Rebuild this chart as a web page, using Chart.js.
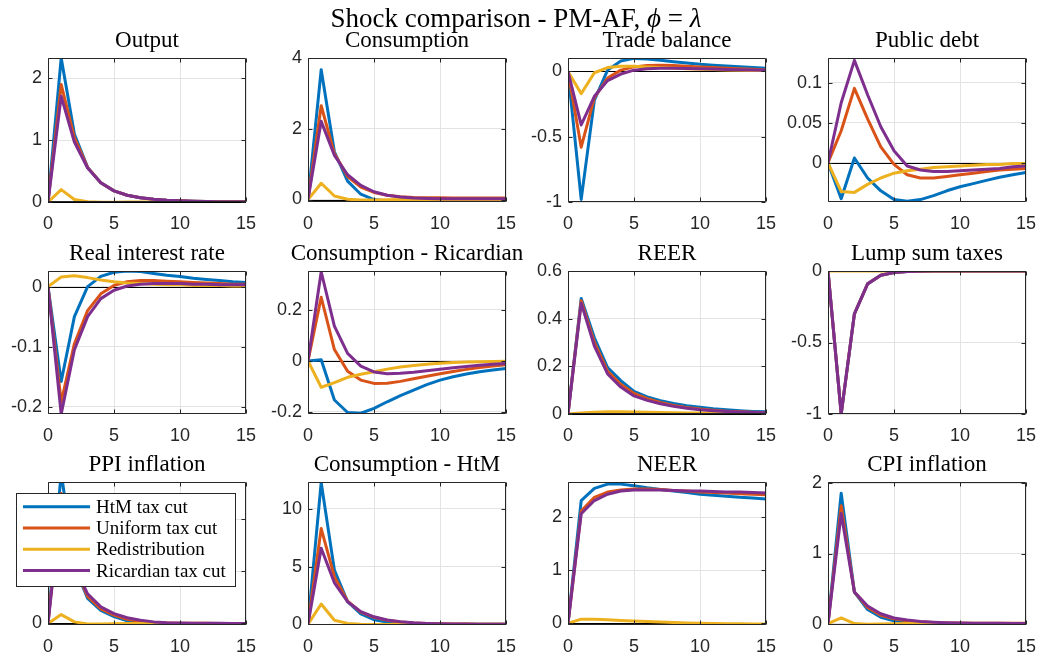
<!DOCTYPE html>
<html>
<head>
<meta charset="utf-8">
<script src="https://cdn.jsdelivr.net/npm/chart.js@4.4.0/dist/chart.umd.min.js"></script>
<style>
  html, body { margin: 0; padding: 0; background: #fff; }
  body { width: 1042px; height: 657px; position: relative; overflow: hidden; }
  canvas.panel { position: absolute; }
  #suptitle {
    position: absolute; left: 266px; width: 500px; top: 5px;
    text-align: center; font: 27px/26px "Liberation Serif", "Times New Roman", serif;
    color: #000; white-space: nowrap; z-index: 2;
  }
</style>
</head>
<body>
<div id="suptitle">Shock comparison - PM-AF, <i>ϕ</i>&nbsp;=&nbsp;<i>λ</i></div>
<script>
// horizon (quarters) and shared x ticks
const periods = [0, 1, 2, 3, 4, 5, 6, 7, 8, 9, 10, 11, 12, 13, 14, 15];
const xTicks = [0, 5, 10, 15];

const seriesNames = ['HtM tax cut', 'Uniform tax cut', 'Redistribution', 'Ricardian tax cut'];
const seriesColors = ['#0072BD', '#D95319', '#EDB120', '#7E2F8E'];

// Output
const outputHtm = [0, 2.33, 1.10, 0.56, 0.31, 0.18, 0.11, 0.07, 0.045, 0.03, 0.02, 0.013, 0.009, 0.006, 0.004, 0.003];
const outputUni = [0, 1.90, 1.04, 0.56, 0.31, 0.18, 0.11, 0.07, 0.045, 0.03, 0.02, 0.013, 0.009, 0.006, 0.004, 0.003];
const outputRed = [0, 0.20, 0.04, 0.005, -0.003, -0.003, -0.002, -0.002, -0.001, -0.001, 0, 0, 0, 0, 0, 0];
const outputRic = [0, 1.71, 0.97, 0.55, 0.31, 0.18, 0.11, 0.07, 0.045, 0.03, 0.02, 0.013, 0.009, 0.006, 0.004, 0.003];
const outputTicks = [0, 1, 2];

// Consumption
const consHtm = [0, 3.67, 1.35, 0.52, 0.15, 0.0, -0.04, -0.05, -0.05, -0.045, -0.04, -0.035, -0.03, -0.025, -0.02, -0.02];
const consUni = [0, 2.65, 1.30, 0.65, 0.35, 0.20, 0.12, 0.08, 0.06, 0.05, 0.05, 0.045, 0.045, 0.04, 0.04, 0.04];
const consRed = [0, 0.46, 0.10, 0.01, -0.01, -0.01, -0.005, 0, 0, 0, 0, 0, 0, 0, 0, 0];
const consRic = [0, 2.21, 1.25, 0.70, 0.40, 0.22, 0.12, 0.07, 0.04, 0.03, 0.02, 0.02, 0.02, 0.02, 0.02, 0.02];
const consTicks = [0, 2, 4];

// Trade balance
const tbHtm = [0, -0.98, -0.22, 0.01, 0.08, 0.10, 0.095, 0.085, 0.075, 0.065, 0.055, 0.048, 0.042, 0.036, 0.03, 0.025];
const tbUni = [0, -0.58, -0.20, -0.05, 0.01, 0.035, 0.045, 0.048, 0.045, 0.04, 0.035, 0.03, 0.025, 0.02, 0.016, 0.012];
const tbRed = [0, -0.17, -0.01, 0.03, 0.04, 0.04, 0.035, 0.03, 0.025, 0.02, 0.017, 0.014, 0.012, 0.01, 0.008, 0.007];
const tbRic = [0, -0.41, -0.19, -0.07, -0.02, 0.01, 0.02, 0.025, 0.025, 0.023, 0.02, 0.018, 0.015, 0.013, 0.011, 0.01];
const tbTicks = [-1, -0.5, 0];

// Public debt
const debtHtm = [0, -0.045, 0.006, -0.019, -0.035, -0.046, -0.048, -0.046, -0.041, -0.035, -0.030, -0.026, -0.022, -0.018, -0.015, -0.012];
const debtUni = [0, 0.040, 0.093, 0.055, 0.020, -0.002, -0.015, -0.019, -0.019, -0.017, -0.015, -0.013, -0.011, -0.009, -0.008, -0.007];
const debtRed = [0, -0.036, -0.037, -0.027, -0.019, -0.013, -0.010, -0.008, -0.006, -0.005, -0.004, -0.003, -0.002, -0.002, -0.001, -0.001];
const debtRic = [0, 0.075, 0.128, 0.085, 0.045, 0.015, -0.004, -0.009, -0.011, -0.011, -0.010, -0.009, -0.008, -0.007, -0.005, -0.004];
const debtTicks = [0, 0.05, 0.1];

// Real interest rate
const rirHtm = [0, -0.158, -0.05, 0.0, 0.017, 0.024, 0.026, 0.025, 0.022, 0.019, 0.017, 0.014, 0.012, 0.010, 0.008, 0.007];
const rirUni = [0, -0.192, -0.095, -0.040, -0.012, 0.002, 0.008, 0.010, 0.010, 0.009, 0.008, 0.007, 0.006, 0.005, 0.004, 0.004];
const rirRed = [0, 0.016, 0.018, 0.015, 0.011, 0.008, 0.006, 0.005, 0.004, 0.003, 0.003, 0.002, 0.002, 0.002, 0.001, 0.001];
const rirRic = [0, -0.212, -0.105, -0.050, -0.020, -0.006, 0.001, 0.004, 0.005, 0.005, 0.005, 0.004, 0.004, 0.003, 0.003, 0.003];
const rirTicks = [-0.2, -0.1, 0];

// Consumption - Ricardian
const cricHtm = [0, 0.005, -0.153, -0.202, -0.205, -0.186, -0.16, -0.136, -0.114, -0.093, -0.075, -0.062, -0.051, -0.042, -0.035, -0.029];
const cricUni = [0, 0.25, 0.045, -0.04, -0.075, -0.088, -0.087, -0.08, -0.07, -0.06, -0.05, -0.041, -0.033, -0.026, -0.02, -0.015];
const cricRed = [0, -0.103, -0.085, -0.064, -0.052, -0.042, -0.032, -0.024, -0.018, -0.013, -0.009, -0.006, -0.004, -0.003, -0.002, -0.001];
const cricRic = [0, 0.35, 0.137, 0.03, -0.02, -0.043, -0.05, -0.048, -0.044, -0.038, -0.032, -0.027, -0.022, -0.017, -0.013, -0.01];
const cricTicks = [-0.2, 0, 0.2];

// REER
const reerHtm = [0, 0.485, 0.32, 0.195, 0.14, 0.095, 0.072, 0.056, 0.044, 0.035, 0.028, 0.022, 0.018, 0.014, 0.011, 0.009];
const reerUni = [0, 0.475, 0.30, 0.18, 0.125, 0.086, 0.064, 0.048, 0.036, 0.027, 0.021, 0.016, 0.012, 0.009, 0.007, 0.005];
const reerRed = [0, 0.004, 0.007, 0.009, 0.009, 0.008, 0.007, 0.006, 0.005, 0.004, 0.004, 0.003, 0.003, 0.002, 0.002, 0.002];
const reerRic = [0, 0.465, 0.285, 0.168, 0.113, 0.076, 0.057, 0.043, 0.032, 0.024, 0.018, 0.014, 0.011, 0.008, 0.006, 0.005];
const reerTicks = [0, 0.2, 0.4, 0.6];

// Lump sum taxes
const taxHtm = [0, -1, -0.30, -0.09, -0.03, -0.011, -0.003, -0.001, 0, 0, 0, 0, 0, 0, 0, 0];
const taxUni = [0, -1, -0.30, -0.09, -0.03, -0.011, -0.003, -0.001, 0, 0, 0, 0, 0, 0, 0, 0];
const taxRed = [0, 0, 0, 0, 0, 0, 0, 0, 0, 0, 0, 0, 0, 0, 0, 0];
const taxRic = [0, -1, -0.30, -0.09, -0.03, -0.011, -0.003, -0.001, 0, 0, 0, 0, 0, 0, 0, 0];
const taxTicks = [-1, -0.5, 0];

// PPI inflation
const ppiHtm = [0, 2.9, 1.1, 0.48, 0.25, 0.13, 0.05, 0.02, 0.0, -0.005, -0.005, -0.004, -0.003, -0.002, -0.002, -0.001];
const ppiUni = [0, 2.5, 1.1, 0.52, 0.28, 0.16, 0.08, 0.04, 0.02, 0.01, 0.005, 0.003, 0.002, 0.001, 0.001, 0.001];
const ppiRed = [0, 0.17, 0.03, -0.01, -0.01, -0.005, -0.003, -0.002, -0.001, 0, 0, 0, 0, 0, 0, 0];
const ppiRic = [0, 2.3, 1.1, 0.57, 0.32, 0.19, 0.11, 0.06, 0.03, 0.015, 0.008, 0.005, 0.003, 0.002, 0.001, 0.001];
const ppiTicks = [0, 1, 2];

// Consumption - HtM
const chtmHtm = [0, 12.3, 4.7, 1.96, 0.9, 0.4, 0.2, 0.1, 0.05, 0.03, 0.02, 0.01, 0.01, 0, 0, 0];
const chtmUni = [0, 8.3, 4.13, 2.0, 1.05, 0.6, 0.35, 0.2, 0.12, 0.07, 0.04, 0.03, 0.02, 0.01, 0.01, 0.01];
const chtmRed = [0, 1.76, 0.35, 0.08, 0.0, -0.01, -0.01, 0, 0, 0, 0, 0, 0, 0, 0, 0];
const chtmRic = [0, 6.6, 3.6, 1.96, 1.1, 0.65, 0.38, 0.22, 0.13, 0.08, 0.05, 0.03, 0.02, 0.015, 0.01, 0.01];
const chtmTicks = [0, 5, 10];

// NEER
const neerHtm = [0, 2.32, 2.55, 2.63, 2.63, 2.60, 2.56, 2.53, 2.50, 2.47, 2.44, 2.42, 2.40, 2.38, 2.37, 2.35];
const neerUni = [0, 2.12, 2.38, 2.48, 2.52, 2.54, 2.54, 2.53, 2.51, 2.50, 2.48, 2.47, 2.46, 2.45, 2.44, 2.43];
const neerRed = [0, 0.08, 0.08, 0.07, 0.055, 0.045, 0.035, 0.025, 0.015, 0.01, 0.005, 0, -0.005, -0.008, -0.01, -0.01];
const neerRic = [0, 2.07, 2.32, 2.44, 2.50, 2.52, 2.52, 2.52, 2.51, 2.50, 2.50, 2.49, 2.48, 2.48, 2.47, 2.46];
const neerTicks = [0, 1, 2];

// CPI inflation
const cpiHtm = [0, 1.86, 0.45, 0.2, 0.09, 0.04, 0.015, 0.0, -0.005, -0.005, -0.004, -0.003, -0.002, -0.002, -0.001, -0.001];
const cpiUni = [0, 1.68, 0.45, 0.23, 0.12, 0.07, 0.04, 0.025, 0.015, 0.01, 0.008, 0.006, 0.005, 0.005, 0.005, 0.005];
const cpiRed = [0, 0.08, 0.0, -0.01, -0.005, -0.002, 0, 0, 0, 0, 0, 0, 0, 0, 0, 0];
const cpiRic = [0, 1.57, 0.45, 0.25, 0.14, 0.08, 0.05, 0.03, 0.02, 0.012, 0.008, 0.006, 0.005, 0.004, 0.003, 0.003];
const cpiTicks = [0, 1, 2];

const panels = [
  { title: 'Output', series: [outputHtm, outputUni, outputRed, outputRic], yTicks: outputTicks, yMin: 0, yMax: 2.33 },
  { title: 'Consumption', series: [consHtm, consUni, consRed, consRic], yTicks: consTicks, yMin: -0.07, yMax: 4 },
  { title: 'Trade balance', series: [tbHtm, tbUni, tbRed, tbRic], yTicks: tbTicks, yMin: -1, yMax: 0.103 },
  { title: 'Public debt', series: [debtHtm, debtUni, debtRed, debtRic], yTicks: debtTicks, yMin: -0.049, yMax: 0.131 },
  { title: 'Real interest rate', series: [rirHtm, rirUni, rirRed, rirRic], yTicks: rirTicks, yMin: -0.212, yMax: 0.026 },
  { title: 'Consumption - Ricardian', series: [cricHtm, cricUni, cricRed, cricRic], yTicks: cricTicks, yMin: -0.208, yMax: 0.353 },
  { title: 'REER', series: [reerHtm, reerUni, reerRed, reerRic], yTicks: reerTicks, yMin: 0, yMax: 0.6 },
  { title: 'Lump sum taxes', series: [taxHtm, taxUni, taxRed, taxRic], yTicks: taxTicks, yMin: -1, yMax: 0 },
  { title: 'PPI inflation', series: [ppiHtm, ppiUni, ppiRed, ppiRic], yTicks: ppiTicks, yMin: -0.03, yMax: 2.72, legend: true },
  { title: 'Consumption - HtM', series: [chtmHtm, chtmUni, chtmRed, chtmRic], yTicks: chtmTicks, yMin: -0.06, yMax: 12.34 },
  { title: 'NEER', series: [neerHtm, neerUni, neerRed, neerRic], yTicks: neerTicks, yMin: -0.03, yMax: 2.67 },
  { title: 'CPI inflation', series: [cpiHtm, cpiUni, cpiRed, cpiRic], yTicks: cpiTicks, yMin: -0.02, yMax: 2.02 }
];

// grid geometry of the axes boxes
const colLeft = [48, 308, 568, 828];
const rowTop = [58, 271, 482];
const plotW = 198;
const plotH = [144, 143, 143];
const sideW = 48;   // y tick label strip, mirrored on the right so titles centre on the box
const xAxisH = 30;
const titleH = 31;  // 28px line + 3px padding

const AXIS_COLOR = '#262626';
const GRID_COLOR = '#e3e3e3';
const tickFont = { family: '"Liberation Sans", Arial, Helvetica, sans-serif', size: 18 };
const serif = '"Liberation Serif", "Times New Roman", serif';

// zero reference line under the curves
const zeroLine = {
  id: 'zeroLine',
  beforeDatasetsDraw(chart) {
    const { ctx, chartArea: a, scales: { y } } = chart;
    const py = Math.round(y.getPixelForValue(0)) + 0.5;
    ctx.save();
    ctx.strokeStyle = '#000';
    ctx.lineWidth = 1;
    ctx.beginPath();
    ctx.moveTo(a.left, py);
    ctx.lineTo(a.right, py);
    ctx.stroke();
    ctx.restore();
  }
};

// box outline with inward ticks on every side
const axesBox = {
  id: 'axesBox',
  afterDatasetsDraw(chart) {
    const { ctx, chartArea: a, scales: { x, y } } = chart;
    const L = Math.round(a.left) + 0.5, R = Math.round(a.right) - 0.5;
    const T = Math.round(a.top) + 0.5, B = Math.round(a.bottom) - 0.5;
    const len = 4;
    ctx.save();
    ctx.strokeStyle = AXIS_COLOR;
    ctx.lineWidth = 1;
    ctx.beginPath();
    x.ticks.forEach(t => {
      const px = Math.round(x.getPixelForValue(t.value)) + 0.5;
      ctx.moveTo(px, B); ctx.lineTo(px, B - len);
      ctx.moveTo(px, T); ctx.lineTo(px, T + len);
    });
    y.ticks.forEach(t => {
      const py = Math.round(y.getPixelForValue(t.value)) + 0.5;
      ctx.moveTo(L, py); ctx.lineTo(L + len, py);
      ctx.moveTo(R, py); ctx.lineTo(R - len, py);
    });
    ctx.rect(L, T, R - L, B - T);
    ctx.stroke();
    ctx.restore();
  }
};

// boxed legend laid over the plot, reading colours and names from the datasets
const overlayLegend = {
  id: 'overlayLegend',
  afterDraw(chart, args, opts) {
    if (!opts.show) return;
    const { ctx, chartArea: a } = chart;
    const left = a.left - 32, top = a.top + 11, w = 219, h = 93;
    const rowGap = 21.3;
    ctx.save();
    ctx.fillStyle = '#fff';
    ctx.fillRect(left, top, w, h);
    ctx.strokeStyle = AXIS_COLOR;
    ctx.lineWidth = 1;
    ctx.strokeRect(Math.round(left) + 0.5, Math.round(top) + 0.5, w, h);
    ctx.font = '19px ' + serif;
    ctx.textBaseline = 'middle';
    ctx.textAlign = 'left';
    chart.data.datasets.forEach((ds, i) => {
      const cy = top + 13.7 + i * rowGap;
      ctx.strokeStyle = ds.borderColor;
      ctx.lineWidth = 3;
      ctx.beginPath();
      ctx.moveTo(left + 7, cy);
      ctx.lineTo(left + 74, cy);
      ctx.stroke();
      ctx.fillStyle = '#000';
      ctx.fillText(ds.label, left + 80, cy + 1);
    });
    ctx.restore();
  }
};

panels.forEach((p, k) => {
  const col = k % 4, row = Math.floor(k / 4);
  const canvas = document.createElement('canvas');
  canvas.className = 'panel';
  canvas.width = sideW + plotW + sideW;
  canvas.height = titleH + plotH[row] + xAxisH;
  canvas.style.left = (colLeft[col] - sideW) + 'px';
  canvas.style.top = (rowTop[row] - titleH) + 'px';
  document.body.appendChild(canvas);

  // later series sit on top, as in the plotting order
  const datasets = p.series.map((values, i) => ({
    label: seriesNames[i],
    data: values,
    borderColor: seriesColors[i],
    backgroundColor: seriesColors[i],
    borderWidth: 3,
    borderJoinStyle: 'round',
    pointRadius: 0,
    tension: 0,
    fill: false,
    clip: 0,
    order: 3 - i
  }));

  new Chart(canvas, {
    type: 'line',
    data: { labels: periods, datasets },
    plugins: [zeroLine, axesBox, overlayLegend],
    options: {
      responsive: false,
      animation: false,
      events: [],
      layout: { padding: 0 },
      plugins: {
        legend: { display: false },
        tooltip: { enabled: false },
        overlayLegend: { show: !!p.legend },
        title: {
          display: true,
          text: p.title,
          color: '#000',
          font: { family: serif, size: 23, weight: 'normal', lineHeight: '28px' },
          padding: { top: 0, bottom: 3 }
        }
      },
      scales: {
        x: {
          type: 'linear',
          min: 0,
          max: 15,
          afterBuildTicks: s => { s.ticks = xTicks.map(v => ({ value: v })); },
          afterFit: s => { s.height = xAxisH; },
          grid: { color: GRID_COLOR, drawTicks: false },
          border: { display: false },
          ticks: { font: tickFont, color: AXIS_COLOR, padding: 11, maxRotation: 0, autoSkip: false, callback: v => String(v) }
        },
        y: {
          type: 'linear',
          min: p.yMin,
          max: p.yMax,
          afterBuildTicks: s => { s.ticks = p.yTicks.map(v => ({ value: v })); },
          afterFit: s => { s.width = sideW; },
          grid: { color: GRID_COLOR, drawTicks: false },
          border: { display: false },
          ticks: { font: tickFont, color: AXIS_COLOR, padding: 6, autoSkip: false, callback: v => String(v) }
        },
        // empty strip on the right keeps the axes box centred under its title
        yRight: {
          type: 'linear',
          position: 'right',
          min: 0,
          max: 1,
          afterFit: s => { s.width = sideW; },
          grid: { display: false, drawTicks: false },
          border: { display: false },
          ticks: { display: false }
        }
      }
    }
  });
});
</script>
</body>
</html>
